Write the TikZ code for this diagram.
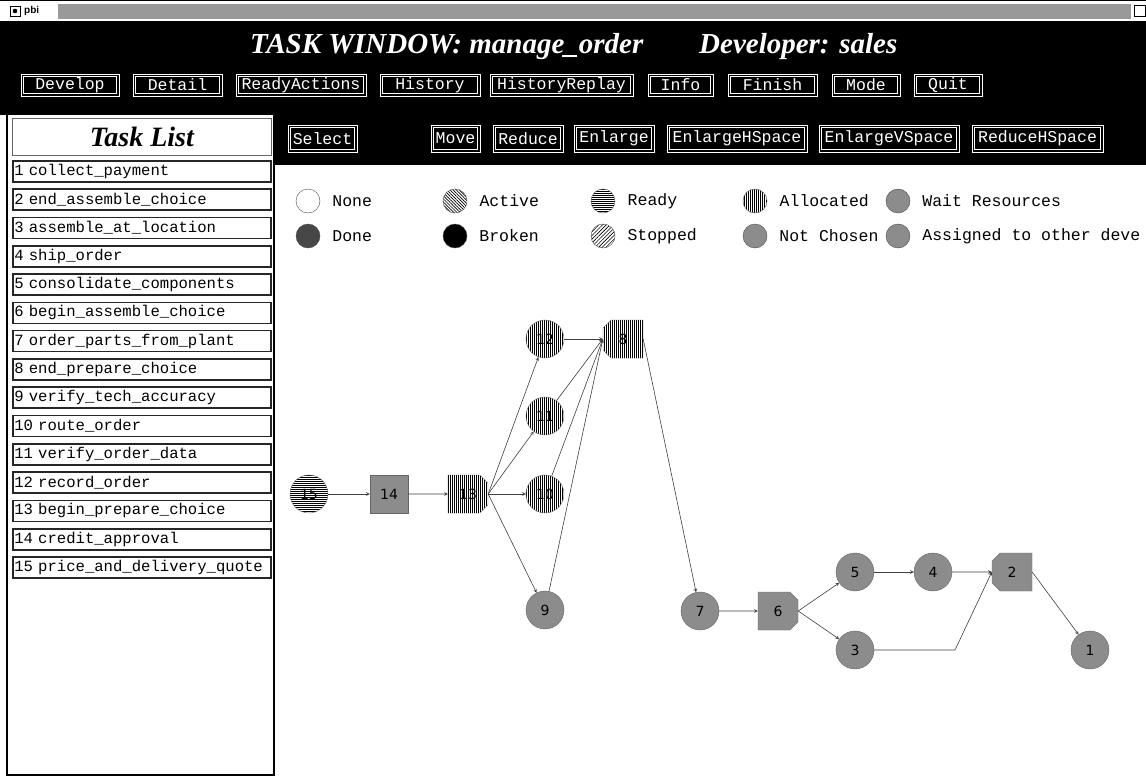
\documentclass[tikz,border=0pt]{standalone}
\usepackage{fontspec}
\usepackage{tikz}
\usetikzlibrary{arrows}
\usetikzlibrary{positioning}
\usetikzlibrary{patterns.meta}
\usetikzlibrary{shapes.misc}

\newfontfamily\monofont{Liberation Mono}
\newfontfamily\titlefont{Liberation Serif}
\newfontfamily\digitfont{DejaVu Sans}
\newfontfamily\barfont{Liberation Sans}

\tikzset{
  button/.style={draw=white, line width=0.9pt, fill=black, text=white, inner sep=0pt,
    minimum height=22pt, font=\monofont\fontsize{16.5}{16.5}\selectfont,
    path picture={\draw[white, line width=0.8pt]
      ([shift={(2.4pt,2.4pt)}]path picture bounding box.south west) rectangle
      ([shift={(-2.4pt,-2.4pt)}]path picture bounding box.north east);}},
  taskentry/.style={draw=black!85, line width=1.6pt, minimum height=21pt,
    text width=255pt, inner xsep=1.5pt, inner ysep=0pt, align=left,
    font=\monofont\fontsize{15.6}{15.6}\selectfont},
  legendmark/.style={circle, draw=black!70, minimum size=24pt, inner sep=0pt},
  legendtext/.style={inner sep=1pt, font=\monofont\fontsize{16.5}{16.5}\selectfont},
  task/.style={circle, draw=black!60, minimum size=38pt, inner sep=0pt,
    font=\digitfont\fontsize{14}{14}\selectfont},
  boxtask/.style={task, rectangle, minimum width=38pt, minimum height=38pt},
  gateR/.style={task, chamfered rectangle, chamfered rectangle corners={north east, south east},
    chamfered rectangle xsep=9pt, minimum width=40pt, minimum height=38pt},
  gateL/.style={task, chamfered rectangle, chamfered rectangle corners={north west, south west},
    chamfered rectangle xsep=9pt, minimum width=40pt, minimum height=38pt},
  allocated/.style={pattern={Lines[angle=90, distance=2pt, line width=1pt]}},
  ready/.style={pattern={Lines[angle=0, distance=2pt, line width=1pt]}},
  active/.style={pattern={Lines[angle=-45, distance=2.2pt, line width=0.7pt]}},
  stopped/.style={pattern={Lines[angle=45, distance=2.6pt, line width=0.6pt]}},
  waiting/.style={fill=black!45},
  done/.style={fill=black!72},
  broken/.style={fill=black},
  link/.style={->, >=stealth, draw=black!75, line width=0.6pt}
}

\begin{document}
\begin{tikzpicture}[x=1pt, y=-1pt]
    \useasboundingbox (0,0) rectangle (1146,776);

    % window frame and header
    \fill[white] (0,0) rectangle (1146,776);
    \fill[black] (0,22) rectangle (1146,115);
    \fill[black] (274,115) rectangle (1146,165);
    \fill[black!40] (58,4) rectangle (1131,19);
    \draw[line width=1pt] (0,0.5) -- (1146,0.5);
    \draw[line width=1.2pt] (0,21.5) -- (1146,21.5);
    \node[draw, line width=0.8pt, minimum size=10pt, inner sep=0pt] (winicon) at (15,11) {};
    \fill (winicon) circle (2.3pt);
    \node[anchor=west, inner sep=0pt, font=\barfont\bfseries\fontsize{10}{10}\selectfont] (wintitle) at (24,10.5) {pbi};
    \node[draw, line width=0.8pt, minimum size=11pt, inner sep=0pt] (winzoom) at (1140,11) {};

    \node[anchor=base west, inner sep=0pt, text=white, font=\titlefont\bfseries\itshape\fontsize{29}{29}\selectfont] (title) at (250,54) {TASK WINDOW: manage\_order};
    \node[anchor=base west, inner sep=0pt, text=white, font=\titlefont\bfseries\itshape\fontsize{29}{29}\selectfont] (developer) at (699,54) {Developer: sales};

    % first button row
    \node[button, minimum width=98pt] (develop) at (70,85) {Develop};
    \node[button, minimum width=89pt] (detail) at (177.5,85) {Detail};
    \node[button, minimum width=130pt] (readyactions) at (301,85) {ReadyActions};
    \node[button, minimum width=100pt] (history) at (430,85) {History};
    \node[button, minimum width=143pt] (historyreplay) at (561.5,85) {HistoryReplay};
    \node[button, minimum width=65pt] (info) at (680.5,85) {Info};
    \node[button, minimum width=89pt] (finish) at (772.5,85) {Finish};
    \node[button, minimum width=68pt] (mode) at (866,85) {Mode};
    \node[button, minimum width=68pt] (quit) at (948,85) {Quit};

    % second button row
    \node[button, minimum width=69pt, minimum height=27pt] (select) at (322.5,138.5) {Select};
    \node[button, minimum width=49pt, minimum height=27pt] (move) at (455.5,138.5) {Move};
    \node[button, minimum width=70pt, minimum height=27pt] (reduce) at (528,138.5) {Reduce};
    \node[button, minimum width=80pt, minimum height=27pt] (enlarge) at (614,138.5) {Enlarge};
    \node[button, minimum width=140pt, minimum height=27pt] (enlargeh) at (737,138.5) {EnlargeHSpace};
    \node[button, minimum width=140pt, minimum height=27pt] (enlargev) at (889,138.5) {EnlargeVSpace};
    \node[button, minimum width=131pt, minimum height=27pt] (reduceh) at (1037.5,138.5) {ReduceHSpace};

    % task list panel
    \draw[line width=1.6pt] (7,115) -- (7,775) -- (274,775);
    \draw[line width=1.6pt] (274,115) -- (274,776);
    \node[draw=black!60, line width=0.8pt, minimum width=259pt, minimum height=37pt, anchor=north west,
      font=\titlefont\bfseries\itshape\fontsize{28}{28}\selectfont] (listhead) at (12,118) {Task List};
    \node[taskentry, anchor=north west] (t1) at (12,160) {1 collect\_payment};
    \node[taskentry, below=5.7pt of t1] (t2) {2 end\_assemble\_choice};
    \node[taskentry, below=5.7pt of t2] (t3) {3 assemble\_at\_location};
    \node[taskentry, below=5.7pt of t3] (t4) {4 ship\_order};
    \node[taskentry, below=5.7pt of t4] (t5) {5 consolidate\_components};
    \node[taskentry, below=5.7pt of t5] (t6) {6 begin\_assemble\_choice};
    \node[taskentry, below=5.7pt of t6] (t7) {7 order\_parts\_from\_plant};
    \node[taskentry, below=5.7pt of t7] (t8) {8 end\_prepare\_choice};
    \node[taskentry, below=5.7pt of t8] (t9) {9 verify\_tech\_accuracy};
    \node[taskentry, below=5.7pt of t9] (t10) {10 route\_order};
    \node[taskentry, below=5.7pt of t10] (t11) {11 verify\_order\_data};
    \node[taskentry, below=5.7pt of t11] (t12) {12 record\_order};
    \node[taskentry, below=5.7pt of t12] (t13) {13 begin\_prepare\_choice};
    \node[taskentry, below=5.7pt of t13] (t14) {14 credit\_approval};
    \node[taskentry, below=5.7pt of t14] (t15) {15 price\_and\_delivery\_quote};

    % legend
    \node[legendmark] (lgnone) at (308,201) {};
    \node[legendtext, right=11pt of lgnone] (lbnone) {None};
    \node[legendmark, active] (lgactive) at (455,201) {};
    \node[legendtext, right=11pt of lgactive] (lbactive) {Active};
    \node[legendmark, ready] (lgready) at (603,201) {};
    \node[legendtext, right=11pt of lgready] (lbready) {Ready};
    \node[legendmark, allocated] (lgalloc) at (755,201) {};
    \node[legendtext, right=11pt of lgalloc] (lballoc) {Allocated};
    \node[legendmark, waiting] (lgwait) at (898,201) {};
    \node[legendtext, right=11pt of lgwait] (lbwait) {Wait Resources};

    \node[legendmark, done] (lgdone) at (308,236) {};
    \node[legendtext, right=11pt of lgdone] (lbdone) {Done};
    \node[legendmark, broken] (lgbroken) at (455,236) {};
    \node[legendtext, right=11pt of lgbroken] (lbbroken) {Broken};
    \node[legendmark, stopped] (lgstopped) at (603,236) {};
    \node[legendtext, right=11pt of lgstopped] (lbstopped) {Stopped};
    \node[legendmark, waiting] (lgnotchosen) at (755,236) {};
    \node[legendtext, right=11pt of lgnotchosen] (lbnotchosen) {Not Chosen};
    \node[legendmark, waiting] (lgassigned) at (898,236) {};
    \node[legendtext, right=11pt of lgassigned] (lbassigned) {Assigned to other deve};

    % task graph
    \node[task, ready] (n15) at (309,494) {15};
    \node[boxtask, waiting] (n14) at (389,494) {14};
    \node[gateR, allocated] (n13) at (468,494) {13};
    \node[task, allocated] (n12) at (545,339) {12};
    \node[task, allocated] (n11) at (545,416) {11};
    \node[task, allocated] (n10) at (545,494) {10};
    \node[task, waiting] (n9) at (545,610) {9};
    \node[gateL, allocated] (n8) at (623,339) {8};
    \node[task, waiting] (n7) at (700,611) {7};
    \node[gateR, waiting] (n6) at (778,611) {6};
    \node[task, waiting] (n5) at (855,572) {5};
    \node[task, waiting] (n4) at (933,572) {4};
    \node[task, waiting] (n3) at (855,650) {3};
    \node[gateL, waiting] (n2) at (1012,572) {2};
    \node[task, waiting] (n1) at (1090,650) {1};
    \coordinate (bend3) at (955,650);

    \draw[link] (n15) -- (n14);
    \draw[link] (n14) -- (n13);
    \draw[link] (n13.east) -- (n12);
    \draw[link] (n13.east) -- (n11);
    \draw[link] (n13.east) -- (n10);
    \draw[link] (n13.east) -- (n9);
    \draw[link] (n12) -- (n8.west);
    \draw[link] (n11) -- (n8.west);
    \draw[link] (n10) -- (n8.west);
    \draw[link] (n9) -- (n8.west);
    \draw[link] (n8.east) -- (n7);
    \draw[link] (n7) -- (n6);
    \draw[link] (n6.east) -- (n5);
    \draw[link] (n6.east) -- (n3);
    \draw[link] (n5) -- (n4);
    \draw[link] (n4) -- (n2);
    \draw[link] (n3) -- (bend3) -- (n2.west);
    \draw[link] (n2.east) -- (n1);
\end{tikzpicture}
\end{document}
